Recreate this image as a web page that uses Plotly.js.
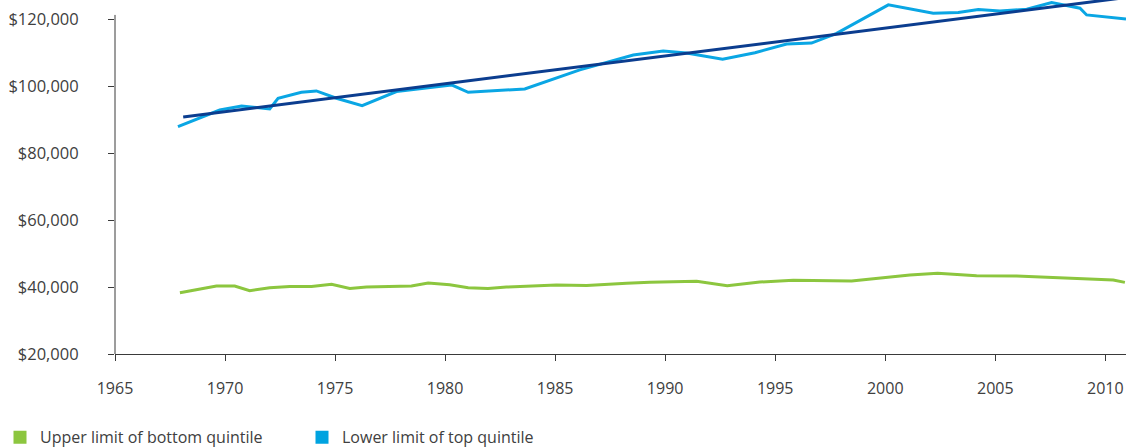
<!DOCTYPE html>
<html>
<head>
<meta charset="utf-8">
<script src="https://cdn.plot.ly/plotly-3.0.1.min.js"></script>
<style>
  html, body { margin: 0; padding: 0; background: #ffffff; }
  #chart { width: 1126px; height: 448px; }
</style>
</head>
<body>
<div id="chart"></div>
<script>
// Household income thresholds, constant dollars
const topYears = [1967.86, 1969.76, 1970.75, 1972.03, 1972.41, 1973.47, 1974.15, 1975.06, 1976.23, 1977.79,
  1980.29, 1981.05, 1983.62, 1985.97, 1986.12, 1988.55, 1989.91, 1990.97, 1992.61, 1994.08,
  1995.52, 1996.65, 1997.79, 2000.14, 2002.18, 2003.32, 2004.23, 2005.21, 2006.43, 2007.56,
  2008.85, 2009.15, 2010.94];
const topValues = [87900, 92900, 94100, 93200, 96400, 98200, 98600, 96400, 94200, 98400,
  100400, 98200, 99200, 104700, 104900, 109300, 110500, 109900, 108100, 110000,
  112600, 112900, 115800, 124300, 121800, 122000, 122900, 122500, 123000, 125000,
  123300, 121300, 120100];

const bottomYears = [1967.95, 1969.61, 1970.44, 1971.12, 1972.03, 1972.94, 1973.93, 1974.84, 1975.67, 1976.43,
  1978.47, 1979.23, 1980.21, 1981.05, 1981.95, 1982.79, 1985.06, 1986.43, 1988.25, 1989.30,
  1991.43, 1992.82, 1994.30, 1995.82, 1998.47, 2001.12, 2002.38, 2004.15, 2005.97, 2010.36,
  2010.89];
const bottomValues = [38300, 40300, 40300, 38900, 39800, 40200, 40200, 40800, 39600, 40000,
  40300, 41200, 40700, 39800, 39600, 40000, 40600, 40500, 41100, 41400,
  41700, 40400, 41500, 42000, 41800, 43600, 44100, 43400, 43300, 42100,
  41400];

// Linear trend of the top-quintile threshold
const trendYears = [1968.1, 2010.94];
const trendValues = [90800, 126500];

const seriesNames = ['Upper limit of bottom quintile', 'Lower limit of top quintile'];
const yTicks = [20000, 40000, 60000, 80000, 100000, 120000];
const yTickText = ['$20,000', '$40,000', '$60,000', '$80,000', '$100,000', '$120,000'];

const GREEN = '#8cc63f';
const LIGHT_BLUE = '#0aa6e4';
const NAVY = '#0b3d8f';
const TEXT = '#404040';
const AXIS = '#3a3a3a';
const FONT = 'Open Sans, Noto Sans, sans-serif';

const traces = [
  { x: bottomYears, y: bottomValues, type: 'scatter', mode: 'lines',
    line: { color: GREEN, width: 3 }, showlegend: false, hoverinfo: 'x+y' },
  { x: topYears, y: topValues, type: 'scatter', mode: 'lines',
    line: { color: LIGHT_BLUE, width: 3 }, showlegend: false, hoverinfo: 'x+y' },
  { x: trendYears, y: trendValues, type: 'scatter', mode: 'lines',
    line: { color: NAVY, width: 3 }, showlegend: false, hoverinfo: 'skip' },
  // legend swatches
  { x: [null], y: [null], type: 'scatter', mode: 'markers', name: seriesNames[0],
    marker: { symbol: 'square', size: 13, color: GREEN } },
  { x: [null], y: [null], type: 'scatter', mode: 'markers', name: seriesNames[1],
    marker: { symbol: 'square', size: 13, color: '#00a3e0' } }
];

const layout = {
  width: 1126, height: 448,
  margin: { l: 115, r: 0, t: 0, b: 94 },
  paper_bgcolor: '#ffffff', plot_bgcolor: '#ffffff',
  font: { family: FONT, size: 16, color: TEXT },
  xaxis: {
    range: [1965, 2010.94], tick0: 1965, dtick: 5,
    showgrid: false, zeroline: false,
    showline: true, linecolor: AXIS, linewidth: 1,
    ticks: 'outside', ticklen: 6, tickwidth: 1, tickcolor: AXIS,
    ticklabelstandoff: 14, automargin: false,
    tickfont: { family: FONT, size: 16, color: TEXT }
  },
  yaxis: {
    range: [20000, 125760],
    tickvals: yTicks, ticktext: yTickText,
    showgrid: false, zeroline: false, showline: false,
    ticks: 'outside', ticklen: 6, tickwidth: 1, tickcolor: AXIS,
    ticklabelstandoff: 26, automargin: false,
    tickfont: { family: FONT, size: 16.5, color: TEXT }
  },
  shapes: [
    { type: 'line', xref: 'paper', yref: 'y', x0: 0, x1: 0, y0: 20000, y1: 121300,
      line: { color: AXIS, width: 1 }, layer: 'above' }
  ],
  showlegend: true,
  legend: {
    orientation: 'h', xref: 'container', yref: 'container',
    x: 0, xanchor: 'left', y: 0.024, yanchor: 'middle',
    entrywidth: 257, entrywidthmode: 'pixels',
    font: { family: FONT, size: 16, color: TEXT },
    bgcolor: 'rgba(0,0,0,0)', itemclick: false, itemdoubleclick: false
  }
};

Plotly.newPlot('chart', traces, layout, { displayModeBar: false, staticPlot: true });
</script>
</body>
</html>
